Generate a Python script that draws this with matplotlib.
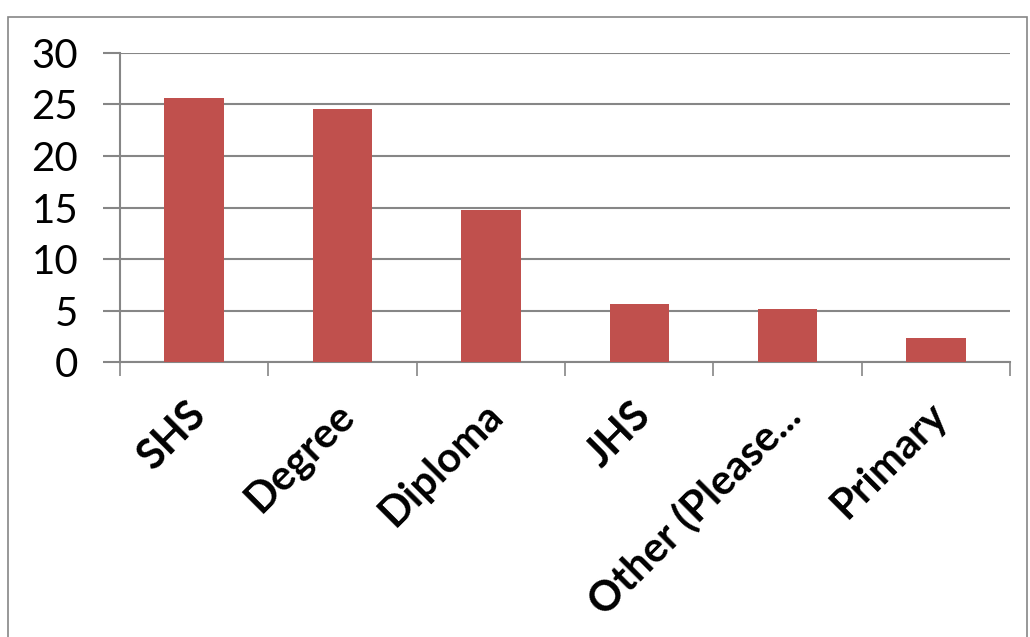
import matplotlib.pyplot as plt
import matplotlib.transforms as mtransforms
import numpy as np
from matplotlib.patches import Rectangle

# Data
categories = ['SHS', 'Degree', 'Diploma', 'JHS', 'Other (Please...', 'Primary']
values = [25.6, 24.6, 14.8, 5.6, 5.1, 2.3]
yticks = [0, 5, 10, 15, 20, 25, 30]

plt.rcParams['font.family'] = ['Lato', 'DejaVu Sans']

fig = plt.figure(figsize=(10.30, 6.37), dpi=100)
ax = fig.add_axes([0.1165, 0.4317, 0.8641, 0.4851])

grey = '#868686'
x = np.arange(len(categories))
ax.bar(x, values, width=0.4, color='#C0504D', zorder=3)

ax.set_xlim(-0.5, len(categories) - 0.5)
ax.set_ylim(0, 30)
ax.set_yticks(yticks)
ax.set_yticklabels([str(t) for t in yticks], fontsize=29)
ax.yaxis.grid(True, color=grey, linewidth=1.5, zorder=0)

# category labels centered, tick marks at the category boundaries
ax.set_xticks(x)
ax.set_xticklabels(categories, rotation=45, ha='right', rotation_mode='anchor',
                   fontsize=30, fontweight='bold')
ax.tick_params(axis='x', which='major', length=0, pad=24)
ax.set_xticks(np.arange(len(categories) + 1) - 0.5, minor=True)
ax.tick_params(axis='x', which='minor', length=10, width=1.2, color=grey, direction='out')
ax.tick_params(axis='y', length=12, width=1.5, color=grey, direction='out', pad=18)

# nudge the rotated labels a little to the left
shift = mtransforms.ScaledTranslation(-8 / 100, 0, fig.dpi_scale_trans)
for lbl in ax.get_xticklabels():
    lbl.set_transform(lbl.get_transform() + shift)

for side in ['top', 'right']:
    ax.spines[side].set_visible(False)
ax.spines['left'].set_color(grey)
ax.spines['left'].set_linewidth(1.5)
ax.spines['bottom'].set_color(grey)
ax.spines['bottom'].set_linewidth(1.5)

# outer chart border
fig.patches.append(Rectangle((8 / 1030, -0.05), 1019 / 1030, 1 - 17 / 637 + 0.05,
                             transform=fig.transFigure, fill=False,
                             edgecolor=grey, linewidth=1.2))

fig.savefig('out.png', dpi=100)
